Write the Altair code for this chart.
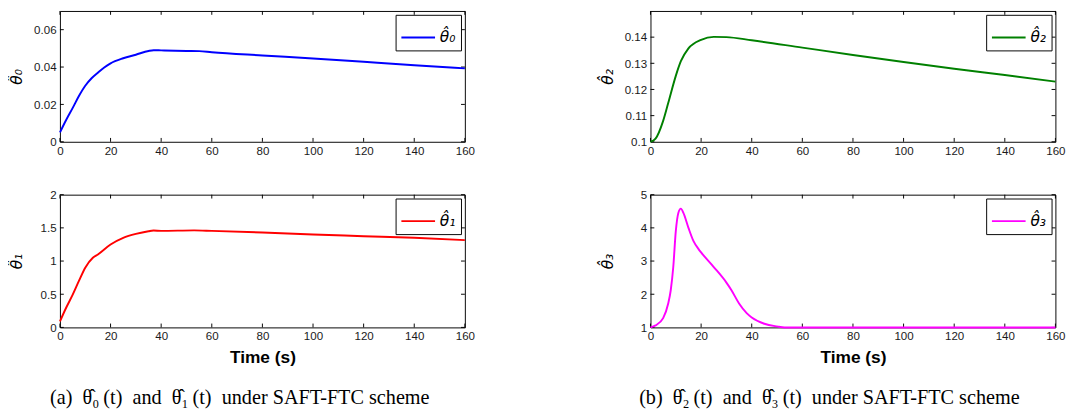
import altair as alt
import pandas as pd

# ---- data ----
t_th0 = [0, 2.5, 5, 7.5, 10, 12.5, 15, 17.5, 20, 25, 30, 35, 37, 40, 50, 55, 60, 80, 100, 120, 140, 160]
v_th0 = [0.005, 0.0118, 0.018, 0.0245, 0.030, 0.034, 0.037, 0.0398, 0.042, 0.0447, 0.0466, 0.0486, 0.049,
         0.0489, 0.0486, 0.0485, 0.0479, 0.0462, 0.0446, 0.0428, 0.041, 0.0393]

t_th1 = [0, 2.5, 5, 7.5, 10, 13, 15, 20, 25, 30, 35, 37, 40, 53, 60, 80, 100, 120, 140, 160]
v_th1 = [0.09, 0.3, 0.49, 0.7, 0.9, 1.05, 1.1, 1.25, 1.35, 1.41, 1.45, 1.46, 1.455, 1.462, 1.455,
         1.43, 1.40, 1.375, 1.35, 1.315]

t_th2 = [0, 2, 5, 7, 10, 12, 15, 20, 25, 30, 40, 60, 80, 100, 120, 140, 160]
v_th2 = [0.1, 0.1012, 0.108, 0.1148, 0.1252, 0.1308, 0.1357, 0.139, 0.1401, 0.14, 0.1388, 0.136,
         0.1332, 0.1305, 0.1279, 0.1255, 0.123]

t_th3 = [0, 2, 5, 7, 8, 9, 10, 11, 12, 13, 15, 17, 19, 20, 25, 30, 32, 35, 38, 40, 45, 50, 53, 60, 160]
v_th3 = [1.0, 1.06, 1.28, 1.72, 2.12, 2.82, 3.9, 4.45, 4.58, 4.45, 4.0, 3.6, 3.36, 3.26, 2.82, 2.35,
         2.12, 1.72, 1.43, 1.3, 1.11, 1.03, 1.0, 1.0, 1.0]

x_ticks = [0, 20, 40, 60, 80, 100, 120, 140, 160]
y_ticks0 = [0, 0.02, 0.04, 0.06]
y_ticks1 = [0, 0.5, 1, 1.5, 2]
y_ticks2 = [0.1, 0.11, 0.12, 0.13, 0.14]
y_ticks3 = [1, 2, 3, 4, 5]

labels = ["θ̂₀", "θ̂₁", "θ̂₂", "θ̂₃"]
colors = ["#0000FF", "#FF0000", "#008000", "#FF00FF"]

caption_a = "(a)\u2002θ̂₀\u2009(t)\u2002and\u2002θ̂₁\u2009(t)\u2002under SAFT-FTC scheme"
caption_b = "(b)\u2002θ̂₂\u2009(t)\u2002and\u2002θ̂₃\u2009(t)\u2002under SAFT-FTC scheme"

W = 421
TICK = 4
MATH_FONT = "DejaVu Sans"


def panel(ts, vs, label, color, ydom, yticks, H, xtitle):
    df = pd.DataFrame({"t": ts, "y": vs, "s": [label] * len(ts)})
    xs = alt.Scale(domain=[0, 160], nice=False)
    ys = alt.Scale(domain=ydom, nice=False, zero=False)
    xaxis_kw = dict(values=x_ticks, ticks=False, domain=False, grid=False, labelPadding=4,
                    labelFlush=False, labelFont="Liberation Sans", labelFontSize=12,
                    labelColor="#1a1a1a")
    if xtitle:
        xaxis = alt.Axis(title=xtitle, titleFont="Liberation Sans", titleFontSize=18,
                         titleFontWeight="bold", titleColor="black", titlePadding=7, **xaxis_kw)
    else:
        xaxis = alt.Axis(title=None, **xaxis_kw)
    yaxis = alt.Axis(values=yticks, format="~g", ticks=False, domain=False, grid=False,
                     labelPadding=4, labelFont="Liberation Sans", labelFontSize=12,
                     labelColor="#1a1a1a", title=label, titleFont=MATH_FONT,
                     titleFontSize=16, titleFontStyle="italic", titleFontWeight="normal",
                     titleColor="black", titleX=-37)
    X = alt.X("t:Q", scale=xs, axis=xaxis)
    Y = alt.Y("y:Q", scale=ys, axis=yaxis)
    line = alt.Chart(df).mark_line(strokeWidth=2, interpolate="monotone").encode(
        x=X, y=Y,
        color=alt.Color("s:N", scale=alt.Scale(domain=[label], range=[color]),
                        legend=alt.Legend(orient="top-right", title=None, symbolType="stroke",
                                          symbolSize=1225, symbolStrokeWidth=2,
                                          labelFont=MATH_FONT, labelFontSize=16,
                                          labelFontStyle="italic", labelColor="black",
                                          strokeColor="black", fillColor="white", padding=5,
                                          offset=4, cornerRadius=0)),
    )
    xt = pd.DataFrame({"t": x_ticks})
    yt = pd.DataFrame({"y": yticks})
    bottom = alt.Chart(xt).mark_rule(color="black", strokeWidth=1).encode(
        x=X, y=alt.value(H), y2=alt.value(H - TICK))
    top = alt.Chart(xt).mark_rule(color="black", strokeWidth=1).encode(
        x=X, y=alt.value(0), y2=alt.value(TICK))
    left = alt.Chart(yt).mark_rule(color="black", strokeWidth=1).encode(
        y=Y, x=alt.value(0), x2=alt.value(TICK))
    right = alt.Chart(yt).mark_rule(color="black", strokeWidth=1).encode(
        y=Y, x=alt.value(W - TICK), x2=alt.value(W))
    return alt.layer(bottom, top, left, right, line).properties(width=W, height=H)


def caption(text, dx):
    return alt.TitleParams(text=text, orient="bottom", anchor="middle", font="Liberation Serif",
                           fontSize=21, fontWeight="normal", color="black", offset=22, dx=dx)


p0 = panel(t_th0, v_th0, labels[0], colors[0], [0, 0.07], y_ticks0, 136, None)
p1 = panel(t_th1, v_th1, labels[1], colors[1], [0, 2], y_ticks1, 138, "Time (s)")
p2 = panel(t_th2, v_th2, labels[2], colors[2], [0.1, 0.15], y_ticks2, 136, None)
p3 = panel(t_th3, v_th3, labels[3], colors[3], [1, 5], y_ticks3, 138, "Time (s)")

colA = alt.vconcat(p0, p1, spacing=32).resolve_scale(color="independent").properties(
    title=caption(caption_a, -2))
colB = alt.vconcat(p2, p3, spacing=32).resolve_scale(color="independent").properties(
    title=caption(caption_b, -3))

chart = alt.hconcat(colA, colB, spacing=128).resolve_scale(color="independent").properties(
    padding={"left": 0, "top": -6, "right": 0, "bottom": 0}, background="white"
).configure_view(stroke="black", strokeWidth=1)

chart.save("out.html", embed_options={"renderer": "svg", "actions": False})
